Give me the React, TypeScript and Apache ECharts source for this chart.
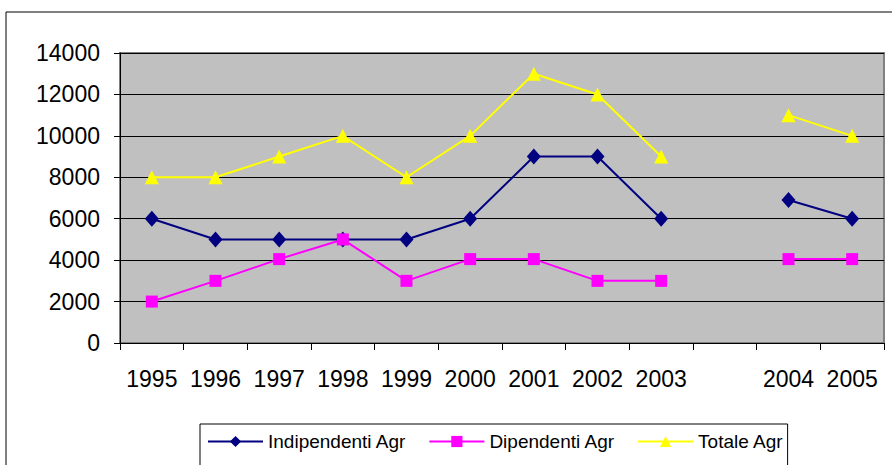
import React, { useEffect, useRef } from "react";
import * as echarts from "echarts";

const categories = ["1995", "1996", "1997", "1998", "1999", "2000", "2001", "2002", "2003", "", "2004", "2005"];
const indipendenti = [6000, 5000, 5000, 5000, 5000, 6000, 9000, 9000, 6000, null, 6900, 6000];
const dipendenti = [2000, 3000, 4050, 5000, 3000, 4050, 4050, 3000, 3000, null, 4050, 4050];
const totale = [8000, 8000, 9000, 10000, 8000, 10000, 13000, 12000, 9000, null, 11000, 10000];
const yTicks = { min: 0, max: 14000, interval: 2000 };

export default function App() {
  const ref = useRef<HTMLDivElement>(null);
  useEffect(() => {
    document.body.style.margin = "0";
    const chart = echarts.init(ref.current!, undefined, { renderer: "svg" });
    const font = "Liberation Sans, Arial, sans-serif";
    chart.setOption({
      animation: false,
      backgroundColor: "#ffffff",
      textStyle: { fontFamily: font },
      graphic: [
        {
          type: "rect",
          shape: { x: 6, y: 12, width: 900, height: 500 },
          style: { fill: "none", stroke: "#000", lineWidth: 1 },
          silent: true,
          z: -1,
        },
      ],
      grid: {
        left: 120,
        right: 8,
        top: 53,
        bottom: 122,
        show: true,
        backgroundColor: "#C0C0C0",
        borderColor: "#808080",
        borderWidth: 2,
      },
      legend: {
        top: 424,
        left: 200,
        itemWidth: 55,
        itemHeight: 14,
        itemGap: 22,
        borderColor: "#000",
        borderWidth: 1,
        padding: [8, 4, 30, 7],
        textStyle: { fontSize: 19, color: "#000", fontFamily: font },
        data: ["Indipendenti Agr", "Dipendenti Agr", "Totale Agr"],
      },
      xAxis: {
        type: "category",
        data: categories,
        boundaryGap: true,
        axisLine: { show: true, lineStyle: { color: "#000", width: 1 } },
        axisTick: { show: true, length: 7, lineStyle: { color: "#000" }, interval: 0 },
        axisLabel: { fontSize: 23, color: "#000", margin: 24, interval: 0, fontFamily: font },
        splitLine: { show: false },
      },
      yAxis: {
        type: "value",
        min: yTicks.min,
        max: yTicks.max,
        interval: yTicks.interval,
        axisLine: { show: true, lineStyle: { color: "#000", width: 1 } },
        axisTick: { show: true, length: 6, lineStyle: { color: "#000" } },
        axisLabel: {
          fontSize: 23,
          color: "#000",
          margin: 20,
          fontFamily: font,
          formatter: (v: number) => String(v),
        },
        splitLine: { show: true, lineStyle: { color: "#000", width: 1 } },
      },
      series: [
        {
          name: "Indipendenti Agr",
          type: "line",
          data: indipendenti,
          symbol: "diamond",
          symbolSize: [14, 16],
          showAllSymbol: true,
          connectNulls: false,
          itemStyle: { color: "#000080" },
          lineStyle: { color: "#000080", width: 2 },
        },
        {
          name: "Dipendenti Agr",
          type: "line",
          data: dipendenti,
          symbol: "rect",
          symbolSize: 12,
          showAllSymbol: true,
          connectNulls: false,
          itemStyle: { color: "#FF00FF" },
          lineStyle: { color: "#FF00FF", width: 2 },
        },
        {
          name: "Totale Agr",
          type: "line",
          data: totale,
          symbol: "triangle",
          symbolSize: 14,
          showAllSymbol: true,
          connectNulls: false,
          itemStyle: { color: "#FFFF00" },
          lineStyle: { color: "#FFFF00", width: 2 },
        },
      ],
    });
    return () => chart.dispose();
  }, []);
  return <div ref={ref} style={{ width: 892, height: 465 }} />;
}
